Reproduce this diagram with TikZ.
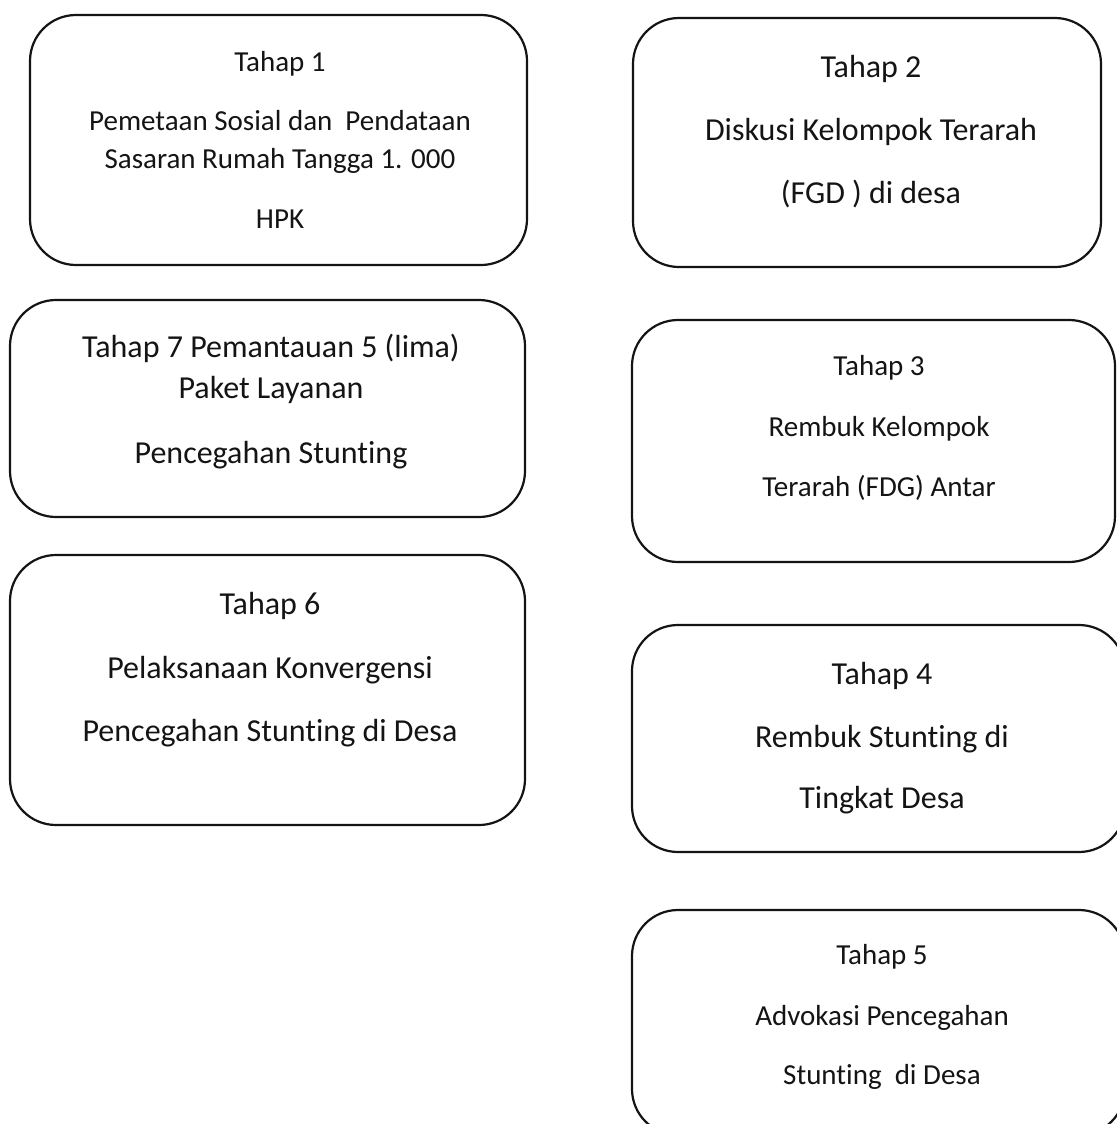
\documentclass[tikz,border=0pt]{standalone}
\usepackage{fontspec}
\setmainfont{Carlito}[Ligatures={NoCommon}]
\definecolor{ink}{HTML}{141414}
\begin{document}
\begin{tikzpicture}[x=0.5pt,y=-0.5pt,
  boxline/.style={draw=ink,line width=1.1pt,rounded corners=23pt},
  small/.style={anchor=base,inner sep=0pt,text=ink,font=\fontsize{14.5pt}{17pt}\selectfont},
  large/.style={anchor=base,inner sep=0pt,text=ink,font=\fontsize{16pt}{19pt}\selectfont}]
\useasboundingbox[fill=white] (0,0) rectangle (1116,1124);
% boxes
\draw[boxline] (30,15) rectangle (527,265);
\draw[boxline] (633,18) rectangle (1101,267);
\draw[boxline] (10,300) rectangle (525,517);
\draw[boxline] (632,320) rectangle (1115,562);
\draw[boxline] (10,555) rectangle (525,825);
\draw[boxline] (632,625) rectangle (1125,852);
\draw[boxline] (632,910) rectangle (1125,1135);
% Tahap 1
\node[small] (t1a) at (280,71) {Tahap 1};
\node[small] (t1b) at (280,130) {Pemetaan Sosial dan\ \ Pendataan};
\node[small] (t1c) at (280,168) {Sasaran Rumah Tangga 1. 000};
\node[small] (t1d) at (280,228) {HPK};
% Tahap 2
\node[large] (t2a) at (871,77) {Tahap 2};
\node[large] (t2b) at (871,140) {Diskusi Kelompok Terarah};
\node[large] (t2c) at (871,203) {(FGD ) di desa};
% Tahap 7
\node[large] (t7a) at (271,357) {Tahap 7 Pemantauan 5 (lima)};
\node[large] (t7b) at (271,398) {Paket Layanan};
\node[large] (t7c) at (271,463) {Pencegahan Stunting};
% Tahap 3
\node[small] (t3a) at (879,375) {Tahap 3};
\node[small] (t3b) at (879,436) {Rembuk Kelompok};
\node[small] (t3c) at (879,496) {Terarah (FDG) Antar};
% Tahap 6
\node[large] (t6a) at (270,614) {Tahap 6};
\node[large] (t6b) at (270,678) {Pelaksanaan Konvergensi};
\node[large] (t6c) at (270,741) {Pencegahan Stunting di Desa};
% Tahap 4
\node[large] (t4a) at (882,684) {Tahap 4};
\node[large] (t4b) at (882,747) {Rembuk Stunting di};
\node[large] (t4c) at (882,808) {Tingkat Desa};
% Tahap 5
\node[small] (t5a) at (882,964) {Tahap 5};
\node[small] (t5b) at (882,1025) {Advokasi Pencegahan};
\node[small] (t5c) at (882,1084) {Stunting\ \ di Desa};
\end{tikzpicture}
\end{document}
